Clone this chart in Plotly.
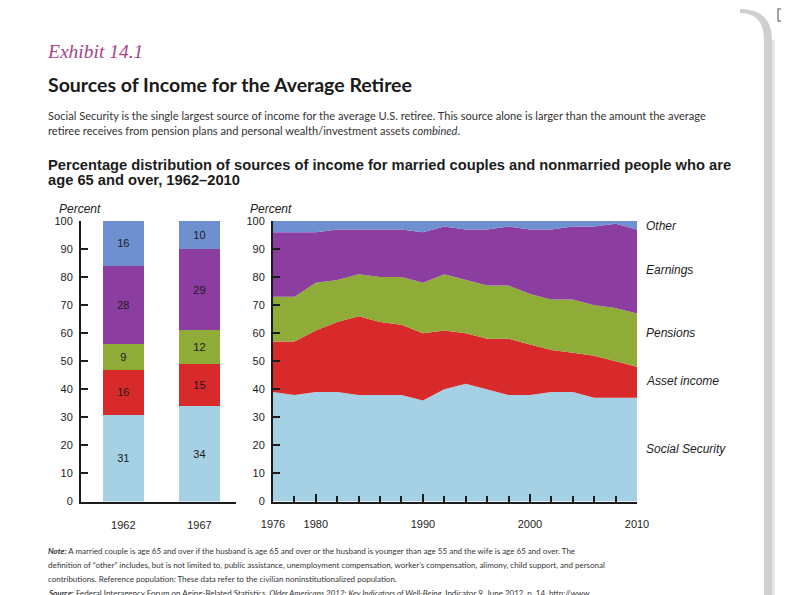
import plotly.graph_objects as go

W, H = 789, 595

# ---------------- data ----------------
bar_years = ["1962", "1967"]
bar_social_security = [31, 34]
bar_asset_income = [16, 15]
bar_pensions = [9, 12]
bar_earnings = [28, 29]
bar_other = [16, 10]

area_years = [1976, 1978, 1980, 1982, 1984, 1986, 1988, 1990, 1992, 1994,
              1996, 1998, 2000, 2002, 2004, 2006, 2008, 2010]
area_social_security = [39, 38, 39, 39, 38, 38, 38, 36, 40, 42, 40, 38, 38, 39, 39, 37, 37, 37]
area_asset_income = [18, 19, 22, 25, 28, 26, 25, 24, 21, 18, 18, 20, 18, 15, 14, 15, 13, 11]
area_pensions = [16, 16, 17, 15, 15, 16, 17, 18, 20, 19, 19, 19, 18, 18, 19, 18, 19, 19]
area_earnings = [23, 23, 18, 18, 16, 17, 17, 18, 17, 18, 20, 21, 23, 25, 26, 28, 30, 30]
area_other = [4, 4, 4, 3, 3, 3, 3, 4, 2, 3, 3, 2, 3, 3, 2, 2, 1, 3]

series_names = ["Social Security", "Asset income", "Pensions", "Earnings", "Other"]
series_colors = ["#a6d0e4", "#d82a2a", "#8fab38", "#8b3ea0", "#6e8fd0"]

x_tick_vals = [1976, 1980, 1990, 2000, 2010]
y_tick_vals = [0, 10, 20, 30, 40, 50, 60, 70, 80, 90, 100]

# ---------------- helpers ----------------
# the page body adds an 8px margin; positions below are given in window pixels
OFF = 8

def px(x):
    return (x - OFF) / W

def py(y):
    return 1 - (y - OFF) / H

FONT = "Liberation Sans, Arial, sans-serif"
LATO = "Lato, Liberation Sans, sans-serif"
INK = "#1c1c1c"

fig = go.Figure()

bar_series = [bar_social_security, bar_asset_income, bar_pensions, bar_earnings, bar_other]
for name, vals, col in zip(series_names, bar_series, series_colors):
    fig.add_trace(go.Bar(
        x=[0, 1], y=vals, name=name, marker=dict(color=col, line=dict(width=0)),
        width=0.54, text=[str(v) for v in vals], textposition="inside",
        insidetextanchor="middle", textangle=0,
        textfont=dict(family=FONT, size=11, color=INK),
        xaxis="x", yaxis="y", showlegend=False, hoverinfo="skip",
    ))

area_series = [area_social_security, area_asset_income, area_pensions, area_earnings, area_other]
for name, vals, col in zip(series_names, area_series, series_colors):
    fig.add_trace(go.Scatter(
        x=area_years, y=vals, name=name, mode="lines",
        line=dict(width=0, color=col), fillcolor=col,
        stackgroup="one", xaxis="x2", yaxis="y2", showlegend=False,
        hoverinfo="skip",
    ))

yd = [py(501.5), py(221)]

axis_common = dict(showline=True, linecolor=INK, linewidth=2, showgrid=False,
                   zeroline=False, tickcolor=INK, tickwidth=2, automargin=False,
                   tickfont=dict(family=FONT, size=11, color=INK))

fig.update_layout(
    width=W, height=H,
    margin=dict(l=0, r=0, t=0, b=0, autoexpand=False),
    paper_bgcolor="white", plot_bgcolor="rgba(0,0,0,0)",
    barmode="stack",
    xaxis=dict(domain=[px(81), px(236)], range=[-0.556, 1.48],
               tickvals=[0, 1], ticktext=bar_years, ticks="",
               ticklabelstandoff=12, anchor="y", fixedrange=True, **axis_common),
    yaxis=dict(domain=yd, range=[0, 100], tickvals=y_tick_vals, ticks="inside",
               ticklen=7, ticklabelstandoff=4, anchor="x", **axis_common),
    xaxis2=dict(domain=[px(273), px(637)], range=[1976, 2010],
                tickvals=x_tick_vals, ticks="inside", ticklen=8,
                ticklabelstandoff=11, anchor="y2",
                minor=dict(ticks="inside", ticklen=6, tickwidth=2, tickcolor=INK,
                           tick0=1976, dtick=2),
                **axis_common),
    yaxis2=dict(domain=yd, range=[0, 100], tickvals=y_tick_vals, ticks="inside",
                ticklen=7, ticklabelstandoff=4, anchor="x2", **axis_common),
)

ann = []

def text(x, y, s, size, family=FONT, color=INK, xanchor="left"):
    ann.append(dict(x=px(x), y=py(y), xref="paper", yref="paper", text=s,
                    showarrow=False, xanchor=xanchor, yanchor="middle",
                    font=dict(family=family, size=size, color=color)))

text(45, 52, "<i>Exhibit 14.1</i>", 19.5, family="Liberation Serif, Times New Roman, serif", color="#a8438a")
text(46, 85, "<b>Sources of Income for the Average Retiree</b>", 19.5, family=LATO, color="#1a1a1a")
text(46, 115, "Social Security is the single largest source of income for the average U.S. retiree. This source alone is larger than the amount the average", 11.1, family=LATO, color="#333333")
text(46, 131, "retiree receives from pension plans and personal wealth/investment assets <i>combined</i>.", 11.1, family=LATO, color="#333333")
text(46, 165, "<b>Percentage distribution of sources of income for married couples and nonmarried people who are</b>", 14.7)
text(46, 180, "<b>age 65 and over, 1962–2010</b>", 14.7)

text(57, 209, "<i>Percent</i>", 12)
text(248, 209, "<i>Percent</i>", 12)

legend_y = [449, 381, 333, 270, 226]
for name, yy in zip(series_names, legend_y):
    text(644, yy, "<i>" + name + "</i>", 12)

note_lines = [
    "<b><i>Note:</i></b> A married couple is age 65 and over if the husband is age 65 and over or the husband is younger than age 55 and the wife is age 65 and over. The",
    "definition of “other” includes, but is not limited to, public assistance, unemployment compensation, worker’s compensation, alimony, child support, and personal",
    "contributions. Reference population: These data refer to the civilian noninstitutionalized population.",
    "<b><i>Source:</i></b> Federal Interagency Forum on Aging-Related Statistics, <i>Older Americans 2012: Key Indicators of Well-Being</i>, Indicator 9, June 2012, p. 14, http://www.",
]
for i, s in enumerate(note_lines):
    text(46, 550.5 + i * 14, s, 8.0, family=LATO, color="#333333")

fig.update_layout(annotations=ann)

# card shadow on right and small icon
shapes = [
    dict(type="path", xref="paper", yref="paper",
         path=f"M {px(740)} {py(13)} Q {px(764)} {py(13)} {px(764)} {py(40)} L {px(764)} {py(603)} L {px(772)} {py(603)} L {px(772)} {py(40)} Q {px(772)} {py(9)} {px(740)} {py(9)} Z",
         fillcolor="#cfcfcf", line=dict(width=0), layer="below"),
    dict(type="rect", xref="paper", yref="paper", x0=px(772), x1=px(775), y0=py(40), y1=py(603),
         fillcolor="#e6e6e6", line=dict(width=0), layer="below"),
    dict(type="rect", xref="paper", yref="paper", x0=px(778), x1=px(795), y0=py(9), y1=py(21),
         fillcolor="white", line=dict(width=1.5, color="#888888")),
]
fig.update_layout(shapes=shapes)

fig.write_html("out.html")
